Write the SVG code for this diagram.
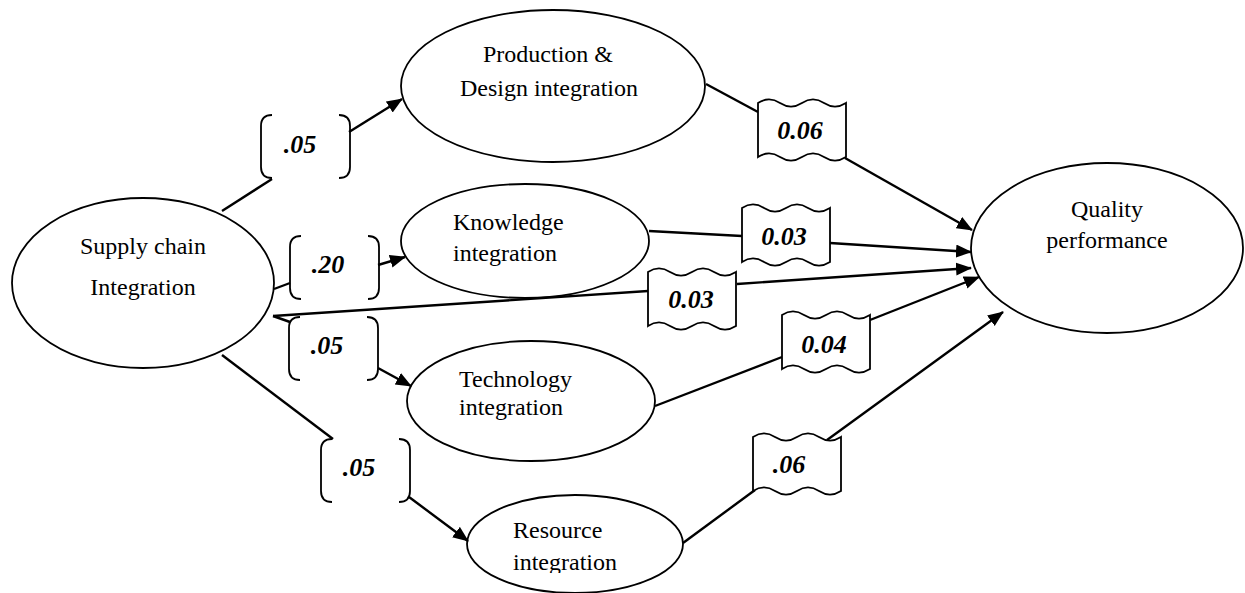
<svg xmlns="http://www.w3.org/2000/svg" xmlns:xlink="http://www.w3.org/1999/xlink" width="1245" height="593" viewBox="0 0 1245 593">
<style>
.node ellipse{fill:#fff;stroke:#000;stroke-width:1.8}
.nt{font-family:"Liberation Serif","Times New Roman",serif;font-size:24px;fill:#000}
.lbl{font-family:"Liberation Serif","Times New Roman",serif;font-size:26px;font-weight:bold;font-style:italic;fill:#000;text-anchor:middle}
.ln{stroke:#000;stroke-width:2.4;fill:none}
.arr{stroke:#000;stroke-width:2.4;fill:none;marker-end:url(#ah)}
.brk{fill:none;stroke:#000;stroke-width:1.8}
.wav{fill:#fff;stroke:#000;stroke-width:1.8}
</style>
<defs>
<marker id="ah" markerUnits="userSpaceOnUse" markerWidth="18" markerHeight="14" refX="15" refY="6.5" orient="auto">
<path d="M0,0 L16,6.5 L0,13 Z" fill="#000"/>
</marker>
<path id="bracket" d="M11,0 Q0,0 0,11 L0,52 Q0,63 11,63 M78,0 Q89,0 89,11 L89,52 Q89,63 78,63"/>
<path id="wave" d="M0,0 c7.3,-4.7 14.7,-4.7 22,0 c7.3,4.7 14.7,4.7 22,0 c7.3,-4.7 14.7,-4.7 22,0 c7.3,4.7 14.7,4.7 22,0 L88,54 c-7.3,4.7 -14.7,4.7 -22,0 c-7.3,-4.7 -14.7,-4.7 -22,0 c-7.3,4.7 -14.7,4.7 -22,0 c-7.3,-4.7 -14.7,-4.7 -22,0 Z"/>
<clipPath id="clipRes"><rect x="0" y="0" width="1245" height="573"/></clipPath>
</defs>

<g id="node-supply" class="node">
<ellipse cx="143" cy="283" rx="131" ry="85"/>
<text class="nt" x="143" y="254" text-anchor="middle">Supply chain</text>
<text class="nt" x="143" y="295" text-anchor="middle">Integration</text>
</g>
<g id="node-production" class="node">
<ellipse cx="553" cy="86" rx="152" ry="76"/>
<text class="nt" x="548" y="62" text-anchor="middle">Production &amp;</text>
<text class="nt" x="549" y="96" text-anchor="middle">Design integration</text>
</g>
<g id="node-knowledge" class="node">
<ellipse cx="525" cy="241" rx="124" ry="57"/>
<text class="nt" x="453" y="230">Knowledge</text>
<text class="nt" x="453" y="261">integration</text>
</g>
<g id="node-technology" class="node">
<ellipse cx="531" cy="401" rx="124" ry="60"/>
<text class="nt" x="459" y="387">Technology</text>
<text class="nt" x="459" y="415">integration</text>
</g>
<g id="node-resource" class="node">
<ellipse cx="575" cy="544" rx="108" ry="49"/>
<text class="nt" x="513" y="538">Resource</text>
<text class="nt" x="513" y="570" clip-path="url(#clipRes)">integration</text>
</g>
<g id="node-quality" class="node">
<ellipse cx="1107" cy="248" rx="136" ry="85"/>
<text class="nt" x="1107" y="217" text-anchor="middle">Quality</text>
<text class="nt" x="1107" y="248" text-anchor="middle">performance</text>
</g>

<g id="connectors">
<line class="ln" x1="222" y1="211" x2="272" y2="179"/>
<line class="arr" x1="349" y1="132" x2="402" y2="99"/>
<line class="ln" x1="274" y1="289" x2="290" y2="283"/>
<line class="arr" x1="378" y1="265" x2="405" y2="257"/>
<line class="ln" x1="273" y1="316" x2="290" y2="322"/>
<line class="arr" x1="378" y1="368" x2="411" y2="386"/>
<line class="ln" x1="222" y1="355" x2="333" y2="439"/>
<line class="arr" x1="409" y1="497" x2="468" y2="541"/>
<line class="ln" x1="273" y1="316" x2="648" y2="291"/>
<line class="arr" x1="737" y1="284" x2="971" y2="268"/>
<line class="ln" x1="706" y1="84" x2="758" y2="112"/>
<line class="arr" x1="845" y1="158" x2="972" y2="230"/>
<line class="ln" x1="649" y1="231" x2="742" y2="236"/>
<line class="arr" x1="830" y1="243" x2="971" y2="252"/>
<line class="ln" x1="655" y1="406" x2="782" y2="357"/>
<line class="arr" x1="870" y1="320" x2="979" y2="277"/>
<line class="ln" x1="683" y1="543" x2="755" y2="490"/>
<line class="arr" x1="827" y1="440" x2="1003" y2="312"/>

<g id="label-sci-pdi">
<use xlink:href="#bracket" href="#bracket" class="brk" transform="translate(261,115)"/>
<text class="lbl" x="300" y="153">.05</text>
</g>
<g id="label-sci-ki">
<use xlink:href="#bracket" href="#bracket" class="brk" transform="translate(290,236)"/>
<text class="lbl" x="328" y="273">.20</text>
</g>
<g id="label-sci-ti">
<use xlink:href="#bracket" href="#bracket" class="brk" transform="translate(289,317)"/>
<text class="lbl" x="327" y="354">.05</text>
</g>
<g id="label-sci-ri">
<use xlink:href="#bracket" href="#bracket" class="brk" transform="translate(321,439)"/>
<text class="lbl" x="359" y="476">.05</text>
</g>
<g id="label-pdi-qp">
<use xlink:href="#wave" href="#wave" class="wav" transform="translate(758,103)"/>
<text class="lbl" x="800" y="139">0.06</text>
</g>
<g id="label-ki-qp">
<use xlink:href="#wave" href="#wave" class="wav" transform="translate(742,208)"/>
<text class="lbl" x="784" y="245">0.03</text>
</g>
<g id="label-sci-qp">
<use xlink:href="#wave" href="#wave" class="wav" transform="translate(648,272)"/>
<text class="lbl" x="691" y="308">0.03</text>
</g>
<g id="label-ti-qp">
<use xlink:href="#wave" href="#wave" class="wav" transform="translate(782,315)"/>
<text class="lbl" x="824" y="353">0.04</text>
</g>
<g id="label-ri-qp">
<use xlink:href="#wave" href="#wave" class="wav" transform="translate(753,437)"/>
<text class="lbl" x="789" y="473">.06</text>
</g>
</g>
</svg>
